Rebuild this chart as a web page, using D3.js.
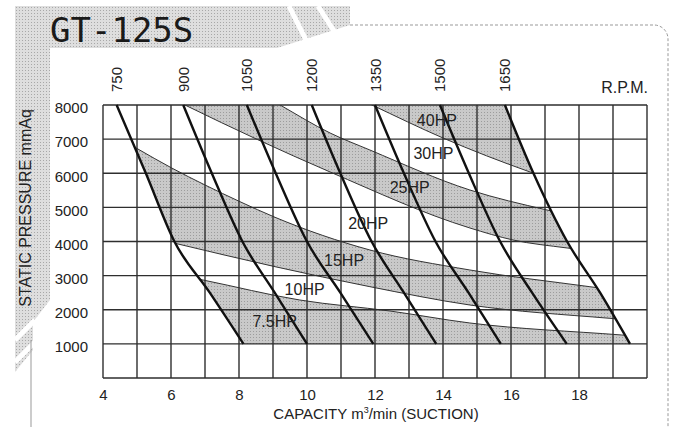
<!DOCTYPE html>
<html>
<head>
<meta charset="utf-8">
<script src="https://cdn.jsdelivr.net/npm/d3@7"></script>
<style>
body { margin: 0; background: #fff; }
text { font-family: "Liberation Sans", Arial, sans-serif; fill: #222; }
</style>
</head>
<body>
<script>
// fan curves: capacity (m3/min) at these pressures
const rpmLabels = ["750", "900", "1050", "1200", "1350", "1500", "1650"];
const rpmPressure = [8000, 6000, 4000, 2500, 1000];
const rpm750 = [4.4, 5.26, 6.1, 7.14, 8.13];
const rpm900 = [6.36, 7.2, 8.1, 9.05, 10.0];
const rpm1050 = [8.23, 9.08, 10.0, 10.98, 11.95];
const rpm1200 = [10.14, 10.98, 11.9, 12.85, 13.8];
const rpm1350 = [12.0, 12.85, 13.78, 14.75, 15.7];
const rpm1500 = [13.91, 14.76, 15.68, 16.62, 17.64];
const rpm1650 = [15.82, 16.66, 17.65, 18.62, 19.5];
const rpmCurves = [rpm750, rpm900, rpm1050, rpm1200, rpm1350, rpm1500, rpm1650];

// motor power zone boundaries (capacity, pressure)
const edge1Cap = [4.0, 6.94, 9.79, 12.44, 14.79, 19.26, 20.3];       // 7.5HP / 10HP
const edge1Pres = [3450, 2872, 2285, 1963, 1612, 1260, 1180];
const edge2Cap = [4.0, 6.12, 9.06, 11.85, 14.79, 18.91, 20.3];       // 10HP / 15HP
const edge2Pres = [4450, 3947, 3262, 2676, 2139, 1749, 1640];
const edge3Cap = [4.0, 4.99, 6.02, 7.0, 8.03, 9.06, 11.85, 14.79, 18.32, 20.3]; // 15HP / 20HP
const edge3Pres = [7300, 6731, 6154, 5656, 5166, 4709, 3751, 3165, 2675, 2410];
const edge4Cap = [5.6, 6.41, 10.68, 14.79, 16.06, 17.65, 20.3];      // 20HP / 25HP
const edge4Pres = [8400, 8000, 6037, 4396, 4044, 3810, 3520];
const edge5Cap = [8.6, 9.21, 10.68, 11.85, 14.79, 17.06, 20.3];      // 25HP / 30HP
const edge5Pres = [8350, 8000, 7179, 6681, 5509, 4923, 4300];
const edge6Cap = [11.1, 11.91, 14.0, 16.56, 20.3];                   // 30HP / 40HP
const edge6Pres = [8380, 8000, 7033, 6037, 4900];

const hpLabels = ["7.5HP", "10HP", "15HP", "20HP", "25HP", "30HP", "40HP"];
const hpLabelCap = [9.05, 9.93, 11.09, 11.8, 13.02, 13.72, 13.82];
const hpLabelPres = [1650, 2600, 3460, 4520, 5600, 6570, 7545];

const xTicks = [4, 6, 8, 10, 12, 14, 16, 18];
const yTicks = [1000, 2000, 3000, 4000, 5000, 6000, 7000, 8000];

const W = 678, H = 427;
const x = d3.scaleLinear().domain([4, 20]).range([103, 647]);
const y = d3.scaleLinear().domain([0, 8000]).range([378, 105]);

const svg = d3.select("body").append("svg").attr("width", W).attr("height", H);
const defs = svg.append("defs");

// dotted gray fill for the bands
const pat = defs.append("pattern").attr("id", "dots")
  .attr("width", 3).attr("height", 3).attr("patternUnits", "userSpaceOnUse");
pat.append("rect").attr("width", 3).attr("height", 3).attr("fill", "#c9c9c9");
pat.append("rect").attr("x", 1).attr("y", 1).attr("width", 1).attr("height", 1).attr("fill", "#9c9c9c");

// lighter dots for the frame
const fpat = defs.append("pattern").attr("id", "frameDots")
  .attr("width", 3).attr("height", 3).attr("patternUnits", "userSpaceOnUse");
fpat.append("rect").attr("width", 3).attr("height", 3).attr("fill", "#dedede");
fpat.append("rect").attr("x", 1).attr("y", 1).attr("width", 1).attr("height", 1).attr("fill", "#a8a8a8");

// ---- decorative frame
svg.append("polygon")
  .attr("points", "15,6 350,6 350,25 277,48 50,48 50,300 33,322 33,350 15,372")
  .attr("fill", "url(#frameDots)");
[[289, 6, 306, 40], [318, 6, 334, 31]].forEach(s => {
  svg.append("line").attr("x1", s[0]).attr("y1", s[1]).attr("x2", s[2]).attr("y2", s[3])
    .attr("stroke", "#fff").attr("stroke-width", 5);
});
[[15, 340, 35, 320], [15, 362, 35, 342]].forEach(s => {
  svg.append("line").attr("x1", s[0]).attr("y1", s[1]).attr("x2", s[2]).attr("y2", s[3])
    .attr("stroke", "#fff").attr("stroke-width", 5);
});
svg.append("line").attr("x1", 31).attr("y1", 340).attr("x2", 31).attr("y2", 427)
  .attr("stroke", "#999").attr("stroke-width", 1);
svg.append("path")
  .attr("d", "M350,25 H654 A14,14 0 0 1 668,39 V427")
  .attr("fill", "none").attr("stroke", "#999").attr("stroke-width", 1).attr("stroke-dasharray", "3,2");

svg.append("text").attr("x", 50).attr("y", 42)
  .style("font-family", "'DejaVu Sans Mono', monospace").style("font-size", "34px")
  .style("fill", "#1a1a1a")
  .text("GT-125S");

// ---- curve helpers
const line = d3.line().x(d => x(d[0])).y(d => y(d[1])).curve(d3.curveMonotoneX);
const zip = (a, b) => a.map((v, i) => [v, b[i]]);
const rpmPts = c => zip(c, rpmPressure);

// envelope between the 750 and 1650 rpm lines
const envPath = line(rpmPts(rpm750)) + "L" + line(rpmPts(rpm1650).reverse()).slice(1) + "Z";
defs.append("clipPath").attr("id", "env").append("path").attr("d", envPath);

const e1 = zip(edge1Cap, edge1Pres), e2 = zip(edge2Cap, edge2Pres), e3 = zip(edge3Cap, edge3Pres);
const e4 = zip(edge4Cap, edge4Pres), e5 = zip(edge5Cap, edge5Pres), e6 = zip(edge6Cap, edge6Pres);

const bandPaths = [
  "M" + x(4) + "," + y(0) + "L" + x(20.3) + "," + y(0) + "L" + line(e1.slice().reverse()).slice(1) + "Z",
  line(e2) + "L" + line(e3.slice().reverse()).slice(1) + "Z",
  line(e4) + "L" + line(e5.slice().reverse()).slice(1) + "Z",
  line(e6) + "L" + x(20.3) + "," + y(9000) + "L" + x(11.1) + "," + y(9000) + "Z"
];

svg.append("g").attr("clip-path", "url(#env)")
  .selectAll("path").data(bandPaths).enter().append("path")
  .attr("d", d => d)
  .attr("fill", "url(#dots)")
  .attr("stroke", "#333").attr("stroke-width", 1);

// ---- grid
const gridX = d3.range(4, 21);
const gridY = d3.range(0, 8001, 1000);
svg.append("g").selectAll("line").data(gridX).enter().append("line")
  .attr("x1", d => x(d)).attr("x2", d => x(d)).attr("y1", y(0)).attr("y2", y(8000))
  .attr("stroke", "#2e2e2e").attr("stroke-width", 1.4);
svg.append("g").selectAll("line").data(gridY).enter().append("line")
  .attr("x1", x(4)).attr("x2", x(20)).attr("y1", d => y(d)).attr("y2", d => y(d))
  .attr("stroke", "#2e2e2e").attr("stroke-width", 1.4);

// ---- rpm lines
svg.append("g").selectAll("path").data(rpmCurves).enter().append("path")
  .attr("d", d => line(rpmPts(d)))
  .attr("fill", "none").attr("stroke", "#111").attr("stroke-width", 2.4);

svg.append("g").selectAll("text").data(rpmCurves).enter().append("text")
  .attr("transform", d => "translate(" + (x(d[0]) + 5.5) + ",92) rotate(-90)")
  .style("font-size", "15px")
  .text((d, i) => rpmLabels[i]);
svg.append("text").attr("x", 648).attr("y", 93).attr("text-anchor", "end")
  .style("font-size", "16px").text("R.P.M.");

// ---- HP labels
svg.append("g").selectAll("text").data(hpLabels).enter().append("text")
  .attr("x", (d, i) => x(hpLabelCap[i])).attr("y", (d, i) => y(hpLabelPres[i]))
  .attr("dy", "0.35em").attr("text-anchor", "middle")
  .style("font-size", "16px")
  .text(d => d);

// ---- axes
const xAxis = svg.append("g").attr("transform", "translate(0,378)")
  .call(d3.axisBottom(x).tickValues(xTicks).tickSize(0).tickPadding(11));
xAxis.select(".domain").remove();
xAxis.selectAll("text").style("font-size", "15px");

const yAxis = svg.append("g").attr("transform", "translate(103,0)")
  .call(d3.axisLeft(y).tickValues(yTicks).tickFormat(d3.format("d")).tickSize(0).tickPadding(15));
yAxis.select(".domain").remove();
yAxis.selectAll("text").style("font-size", "15px").attr("dy", "0.52em");

const xt = svg.append("text").attr("x", 376).attr("y", 419).attr("text-anchor", "middle")
  .style("font-size", "15px");
xt.append("tspan").text("CAPACITY m");
xt.append("tspan").attr("dy", -6).style("font-size", "9px").text("3");
xt.append("tspan").attr("dy", 6).text("/min (SUCTION)");

svg.append("text").attr("transform", "translate(31,208) rotate(-90)")
  .attr("text-anchor", "middle").style("font-size", "16px")
  .text("STATIC PRESSURE mmAq");
</script>
</body>
</html>
